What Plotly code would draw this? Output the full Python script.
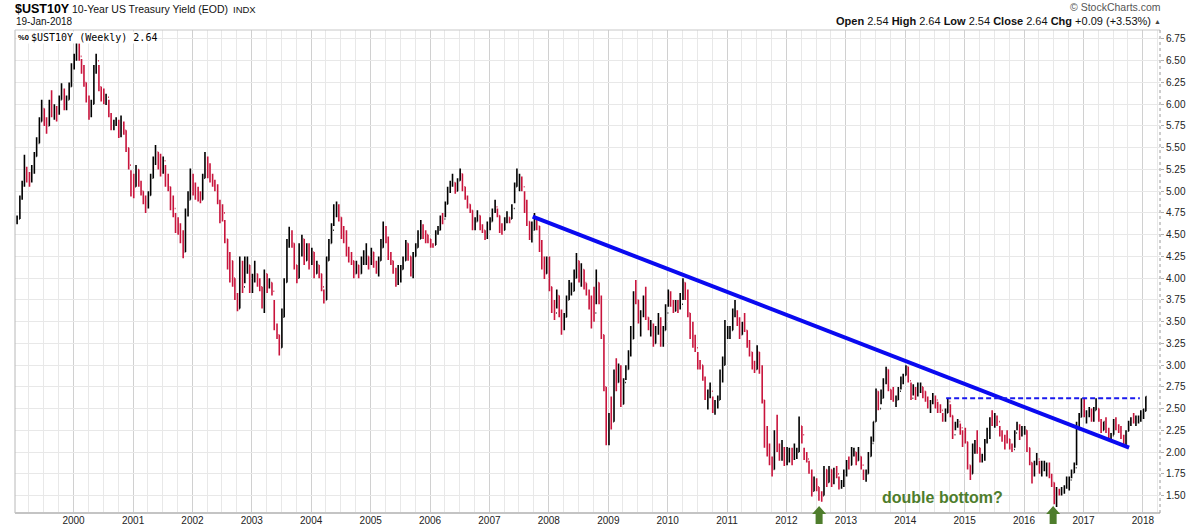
import plotly.graph_objects as go

# ---------------- data (semi-monthly bars) ----------------
high = [
    # 1999 (from Jan 19)
    4.72,4.95,5.12,5.42,5.28,5.22,5.30,5.45,5.62,5.85,6.05,5.95,5.85,6.05,6.16,6.00,5.98,6.10,6.24,6.18,6.10,6.25,6.47,
    # 2000
    6.58,6.72,6.70,6.52,6.45,6.25,6.10,6.05,6.45,6.58,6.45,6.20,6.18,6.12,6.05,5.90,5.82,5.85,5.82,5.87,5.80,5.70,5.50,5.24,
    # 2001
    5.20,5.30,5.25,5.12,5.00,4.95,5.00,5.20,5.40,5.53,5.45,5.43,5.40,5.30,5.20,5.05,4.95,4.75,4.70,4.63,4.55,4.80,5.00,5.26,
    # 2002
    5.20,5.10,5.05,5.00,5.20,5.45,5.40,5.32,5.20,5.13,5.08,4.90,4.85,4.67,4.45,4.30,4.20,4.00,3.83,4.25,4.20,4.25,4.25,4.15,
    # 2003
    4.05,4.20,4.05,4.00,3.90,4.10,4.05,4.00,3.95,3.75,3.48,3.35,3.65,4.00,4.45,4.59,4.55,4.40,4.15,4.40,4.50,4.45,4.40,4.40,
    # 2004
    4.35,4.30,4.20,4.15,4.05,3.87,4.25,4.45,4.63,4.85,4.88,4.85,4.70,4.60,4.55,4.36,4.30,4.20,4.20,4.15,4.25,4.32,4.40,4.25,
    # 2005
    4.35,4.30,4.20,4.25,4.45,4.65,4.60,4.48,4.30,4.20,4.12,4.15,4.15,4.25,4.44,4.40,4.25,4.30,4.40,4.55,4.67,4.62,4.55,4.50,
    # 2006
    4.45,4.40,4.55,4.60,4.72,4.75,4.88,5.05,5.12,5.20,5.10,5.15,5.26,5.20,5.05,4.95,4.85,4.78,4.70,4.78,4.72,4.62,4.55,4.65,
    # 2007
    4.70,4.80,4.90,4.80,4.72,4.63,4.70,4.77,4.70,4.85,5.10,5.26,5.20,5.17,5.00,4.90,4.65,4.65,4.75,4.70,4.60,4.44,4.25,4.25,
    # 2008
    4.25,3.90,3.75,3.87,3.80,3.64,3.60,3.80,3.98,3.95,4.10,4.29,4.20,4.17,4.10,3.94,3.87,3.80,3.90,4.10,3.95,3.80,3.35,2.75,
    # 2009
    2.45,2.64,2.95,3.08,3.02,3.00,2.85,3.00,3.17,3.45,3.85,3.98,3.75,3.63,3.80,3.90,3.55,3.52,3.48,3.45,3.60,3.55,3.45,3.70,
    # 2010
    3.87,3.85,3.75,3.75,3.75,3.83,4.00,3.95,3.87,3.60,3.50,3.35,3.15,3.06,3.00,2.87,2.72,2.80,2.64,2.60,2.65,2.95,3.10,3.52,
    # 2011
    3.45,3.45,3.65,3.75,3.63,3.55,3.50,3.60,3.40,3.29,3.15,3.05,3.23,3.15,3.00,2.60,2.30,2.10,1.95,2.25,2.43,2.10,2.14,2.06,
    # 2012
    2.06,2.05,2.05,2.10,2.05,2.41,2.30,2.05,2.00,1.90,1.80,1.72,1.70,1.60,1.55,1.84,1.80,1.84,1.80,1.82,1.84,1.72,1.68,1.80,
    # 2013
    1.91,1.95,2.06,2.05,2.00,2.06,1.95,1.80,1.80,2.00,2.18,2.35,2.73,2.70,2.72,2.85,2.98,2.95,2.72,2.75,2.65,2.75,2.87,2.90,
    # 2014
    3.00,2.98,2.80,2.78,2.75,2.80,2.80,2.75,2.70,2.64,2.60,2.68,2.65,2.58,2.55,2.45,2.50,2.62,2.55,2.42,2.35,2.38,2.33,2.25,
    # 2015
    2.28,2.12,1.85,2.10,2.14,2.25,2.05,1.98,2.15,2.28,2.40,2.48,2.45,2.42,2.30,2.25,2.20,2.25,2.15,2.10,2.25,2.35,2.32,2.30,
    # 2016
    2.30,2.25,2.05,1.88,1.90,1.99,1.90,1.90,1.90,1.88,1.88,1.75,1.65,1.60,1.58,1.60,1.62,1.72,1.72,1.80,1.88,2.35,2.45,2.62,
    # 2017
    2.62,2.48,2.52,2.50,2.52,2.62,2.50,2.38,2.35,2.40,2.28,2.22,2.38,2.40,2.32,2.30,2.20,2.25,2.36,2.40,2.45,2.42,2.42,2.48,
    # 2018
    2.50,2.64,
]
low = [
    4.62,4.68,4.90,5.05,5.10,5.05,5.10,5.20,5.40,5.55,5.80,5.75,5.66,5.75,5.85,5.82,5.80,5.88,6.05,5.93,5.93,6.05,6.20,
    6.40,6.50,6.50,6.35,6.20,6.02,5.82,5.85,6.00,6.35,6.15,6.03,6.00,5.99,5.85,5.70,5.70,5.75,5.61,5.62,5.65,5.45,5.25,4.94,
    4.92,5.05,5.05,4.95,4.85,4.75,4.80,4.95,5.15,5.30,5.25,5.17,5.20,5.05,5.00,4.78,4.70,4.52,4.50,4.40,4.23,4.30,4.71,4.90,
    4.95,4.90,4.88,4.86,4.90,5.15,5.15,5.10,5.05,5.00,4.85,4.63,4.65,4.40,4.10,3.95,3.90,3.75,3.62,3.65,3.83,3.94,4.05,3.83,
    3.83,3.95,3.90,3.85,3.65,3.60,3.83,3.88,3.80,3.40,3.30,3.11,3.20,3.55,3.95,4.35,4.35,4.10,3.94,4.00,4.25,4.15,4.20,4.10,
    4.15,4.00,4.05,4.00,3.85,3.71,3.75,4.20,4.40,4.60,4.70,4.65,4.45,4.40,4.25,4.18,4.15,4.00,4.05,4.00,4.05,4.15,4.15,4.10,
    4.15,4.12,4.05,4.02,4.20,4.35,4.40,4.21,4.15,4.05,3.90,3.92,3.95,4.10,4.20,4.20,4.02,4.00,4.25,4.35,4.45,4.45,4.40,4.40,
    4.35,4.35,4.38,4.50,4.55,4.62,4.70,4.85,4.98,5.05,4.97,5.00,5.12,5.00,4.90,4.80,4.75,4.55,4.55,4.65,4.55,4.52,4.44,4.45,
    4.55,4.65,4.75,4.70,4.52,4.50,4.55,4.63,4.63,4.68,4.86,5.05,5.00,5.00,4.75,4.60,4.44,4.41,4.55,4.55,4.30,4.10,3.99,4.05,
    3.85,3.60,3.52,3.65,3.55,3.35,3.40,3.55,3.75,3.80,3.85,4.00,3.95,3.90,3.87,3.80,3.64,3.42,3.50,3.70,3.70,3.30,2.70,2.08,
    2.08,2.26,2.35,2.70,2.80,2.52,2.55,2.83,2.95,3.10,3.30,3.70,3.48,3.33,3.55,3.52,3.40,3.33,3.21,3.25,3.35,3.21,3.21,3.40,
    3.67,3.67,3.60,3.62,3.60,3.64,3.75,3.75,3.55,3.30,3.20,3.15,2.95,2.95,2.82,2.60,2.49,2.62,2.45,2.43,2.50,2.60,2.80,3.00,
    3.30,3.30,3.40,3.55,3.45,3.30,3.35,3.38,3.20,3.10,2.95,2.91,2.95,2.90,2.56,2.05,1.95,1.85,1.72,1.80,2.00,1.90,1.90,1.84,
    1.85,1.88,1.85,1.91,1.92,2.00,2.10,1.91,1.88,1.75,1.49,1.55,1.55,1.44,1.43,1.50,1.60,1.65,1.60,1.63,1.70,1.57,1.58,1.60,
    1.72,1.80,1.85,1.95,1.85,1.90,1.80,1.68,1.66,1.75,1.95,2.12,2.35,2.48,2.55,2.62,2.78,2.70,2.60,2.58,2.52,2.60,2.72,2.78,
    2.88,2.80,2.60,2.65,2.60,2.64,2.68,2.62,2.58,2.50,2.45,2.55,2.50,2.45,2.45,2.35,2.35,2.45,2.40,2.15,2.25,2.28,2.20,2.06,
    2.10,1.80,1.68,1.75,1.98,1.98,1.88,1.88,1.90,2.10,2.15,2.30,2.28,2.30,2.18,2.12,2.03,2.10,2.03,2.00,2.05,2.25,2.14,2.18,
    2.20,2.00,1.85,1.64,1.72,1.85,1.75,1.72,1.78,1.72,1.70,1.60,1.40,1.37,1.50,1.50,1.52,1.58,1.56,1.70,1.76,1.85,2.25,2.40,
    2.40,2.33,2.40,2.35,2.35,2.48,2.35,2.22,2.25,2.22,2.15,2.13,2.20,2.25,2.22,2.15,2.08,2.08,2.24,2.30,2.33,2.30,2.33,2.35,
    2.38,2.47,
]
close = [
    4.68,4.92,5.08,5.25,5.15,5.12,5.25,5.40,5.55,5.80,5.95,5.80,5.75,5.98,5.90,5.92,5.90,6.05,6.15,5.98,6.05,6.20,6.42,
    6.55,6.68,6.55,6.42,6.25,6.05,5.88,6.00,6.40,6.50,6.20,6.10,6.05,6.08,5.88,5.75,5.78,5.80,5.70,5.75,5.70,5.50,5.30,5.10,
    5.05,5.25,5.10,5.00,4.90,4.82,4.95,5.15,5.35,5.45,5.32,5.25,5.35,5.10,5.05,4.85,4.80,4.65,4.55,4.50,4.30,4.75,4.90,5.10,
    5.05,4.98,4.95,4.90,5.15,5.35,5.20,5.15,5.10,5.05,4.88,4.75,4.75,4.45,4.20,4.20,4.00,3.80,3.65,4.15,3.90,4.15,4.15,3.90,
    4.00,4.05,3.95,3.90,3.70,4.05,3.90,3.95,3.85,3.45,3.35,3.20,3.55,3.95,4.40,4.50,4.40,4.15,4.00,4.35,4.45,4.20,4.35,4.20,
    4.30,4.05,4.15,4.05,3.90,3.75,4.20,4.40,4.55,4.75,4.80,4.70,4.50,4.45,4.30,4.25,4.20,4.05,4.15,4.05,4.20,4.20,4.25,4.20,
    4.30,4.15,4.10,4.20,4.35,4.55,4.45,4.25,4.20,4.10,3.95,4.05,4.10,4.20,4.40,4.25,4.05,4.25,4.35,4.45,4.60,4.50,4.50,4.45,
    4.38,4.38,4.52,4.55,4.70,4.68,4.85,5.00,5.10,5.10,5.00,5.12,5.20,5.05,4.92,4.85,4.78,4.62,4.65,4.72,4.60,4.55,4.47,4.60,
    4.65,4.78,4.82,4.72,4.55,4.55,4.68,4.70,4.68,4.80,5.05,5.15,5.15,5.05,4.78,4.65,4.50,4.55,4.65,4.60,4.35,4.15,4.05,4.15,
    3.90,3.65,3.60,3.80,3.60,3.45,3.55,3.75,3.85,3.85,4.00,4.20,4.00,4.10,3.95,3.85,3.70,3.70,3.60,3.95,3.75,3.35,2.75,2.15,
    2.40,2.35,2.90,2.80,2.95,2.55,2.80,2.95,3.15,3.30,3.80,3.75,3.50,3.60,3.75,3.55,3.42,3.45,3.25,3.40,3.50,3.35,3.40,3.60,
    3.83,3.70,3.62,3.70,3.65,3.70,3.95,3.80,3.60,3.35,3.25,3.20,3.00,3.00,2.85,2.62,2.65,2.70,2.50,2.55,2.60,2.90,3.00,3.35,
    3.35,3.40,3.60,3.60,3.50,3.35,3.45,3.40,3.25,3.15,3.00,2.95,3.15,2.95,2.60,2.10,2.00,1.90,1.80,2.20,2.05,1.95,2.05,1.90,
    2.00,2.00,1.95,2.00,2.00,2.30,2.20,1.98,1.92,1.78,1.55,1.65,1.60,1.50,1.50,1.80,1.65,1.80,1.65,1.78,1.75,1.60,1.62,1.75,
    1.90,1.85,2.00,2.00,1.90,1.95,1.85,1.70,1.75,1.95,2.10,2.35,2.70,2.50,2.62,2.82,2.95,2.72,2.63,2.59,2.60,2.70,2.85,2.88,
    2.98,2.82,2.62,2.72,2.65,2.75,2.75,2.70,2.60,2.52,2.58,2.62,2.60,2.50,2.48,2.40,2.45,2.58,2.42,2.20,2.32,2.35,2.28,2.15,
    2.12,1.85,1.75,2.05,2.10,2.05,1.90,1.92,2.12,2.20,2.35,2.32,2.38,2.35,2.22,2.15,2.15,2.15,2.05,2.03,2.22,2.28,2.20,2.25,
    2.25,2.05,1.88,1.75,1.88,1.92,1.78,1.80,1.80,1.85,1.72,1.65,1.42,1.55,1.52,1.55,1.60,1.65,1.68,1.76,1.82,2.30,2.40,2.55,
    2.42,2.45,2.46,2.42,2.48,2.50,2.36,2.25,2.35,2.24,2.18,2.19,2.35,2.27,2.27,2.19,2.10,2.24,2.35,2.36,2.35,2.37,2.38,2.46,
    2.47,2.64,
]
first_open = 4.66

# bar dates: the 5th and 19th of every month
dates = []
for yr in range(1999, 2019):
    for mo in range(1, 13):
        for dy in (5, 19):
            s = f"{yr}-{mo:02d}-{dy:02d}"
            if "1999-01-19" <= s <= "2018-01-19":
                dates.append(s)
assert len(dates) == len(high) == len(low) == len(close), (len(dates), len(high), len(low), len(close))
open_ = [first_open] + close[:-1]

# drawn annotations
trend_x = ["2007-09-24", "2017-10-08"]
trend_y = [4.707, 2.052]
resist_x = ["2014-09-09", "2017-12-13"]
resist_y = [2.62, 2.62]
arrow_dates = ["2012-07-20", "2016-06-28"]

y_ticks = [1.50, 1.75, 2.00, 2.25, 2.50, 2.75, 3.00, 3.25, 3.50, 3.75, 4.00, 4.25,
           4.50, 4.75, 5.00, 5.25, 5.50, 5.75, 6.00, 6.25, 6.50, 6.75]

hdr = dict(open="2.54", high="2.64", low="2.54", close="2.64", chg="+0.09 (+3.53%)")

# ---------------- figure ----------------
W, H = 1200, 528
ML, MR, MT, MB = 15, 40, 30, 15
PW, PH = W - ML - MR, H - MT - MB


def px(x):
    return (x - ML) / PW


def py(y):
    return (H - MB - y) / PH


fig = go.Figure()
fig.add_trace(go.Ohlc(
    x=dates, open=open_, high=high, low=low, close=close,
    increasing=dict(line=dict(color="#000000", width=1.6)),
    decreasing=dict(line=dict(color="#c8143c", width=1.6)),
    tickwidth=0.35, showlegend=False, hoverinfo="skip",
))
fig.add_trace(go.Scatter(x=trend_x, y=trend_y, mode="lines",
                         line=dict(color="#0a0af0", width=4), showlegend=False, hoverinfo="skip"))
fig.add_trace(go.Scatter(x=resist_x, y=resist_y, mode="lines",
                         line=dict(color="#1a1aee", width=2, dash="5px,3px"),
                         showlegend=False, hoverinfo="skip"))

font = "Liberation Sans, Arial, sans-serif"
annotations = [
    dict(x=px(13), y=py(9), text="<b>$UST10Y</b>", font=dict(size=12.5, color="#000", family=font),
         xanchor="left", yanchor="middle"),
    dict(x=px(70), y=py(9.5), text="10-Year US Treasury Yield (EOD)", font=dict(size=10.5, color="#111", family=font),
         xanchor="left", yanchor="middle"),
    dict(x=px(231), y=py(9.5), text="INDX", font=dict(size=9.5, color="#111", family=font),
         xanchor="left", yanchor="middle"),
    dict(x=px(14), y=py(22), text="19-Jan-2018", font=dict(size=10, color="#111", family=font),
         xanchor="left", yanchor="middle"),
    dict(x=px(1163), y=py(7), text="\u00a9 StockCharts.com", font=dict(size=10.5, color="#555", family=font),
         xanchor="right", yanchor="middle"),
    dict(x=px(1153), y=py(21.5),
         text=(f"<b>Open</b> {hdr['open']} <b>High</b> {hdr['high']} <b>Low</b> {hdr['low']} "
               f"<b>Close</b> {hdr['close']} <b>Chg</b> {hdr['chg']}"),
         font=dict(size=11, color="#111", family=font), xanchor="right", yanchor="middle"),
    dict(x=px(1152), y=py(21), text="\u25b2", font=dict(size=7, color="#444", family=font),
         xanchor="left", yanchor="middle"),
    dict(x=px(15.5), y=py(30.5), text="<b>%0</b>", font=dict(size=7.5, color="#000", family=font),
         xanchor="left", yanchor="top", bgcolor="#ffffff", borderpad=1),
    dict(x=px(30), y=py(30.5), text="$UST10Y (Weekly) 2.64",
         font=dict(size=10, color="#000", family="DejaVu Sans Mono, monospace"),
         xanchor="left", yanchor="top", bgcolor="#ffffff", borderpad=0),
    dict(x=px(942), y=py(497.5), text="<b>double bottom?</b>",
         font=dict(size=16, color="#4e7d2c", family=font), xanchor="center", yanchor="middle"),
]
for a in annotations:
    a.update(xref="paper", yref="paper", showarrow=False)

shapes = [
    dict(type="line", xref="paper", yref="paper", x0=0, x1=0, y0=0, y1=1, line=dict(color="#b8b8b8", width=1)),
    dict(type="line", xref="paper", yref="paper", x0=0, x1=1, y0=1, y1=1, line=dict(color="#c8c8c8", width=1)),
    dict(type="line", xref="paper", yref="paper", x0=0, x1=1, y0=0, y1=0, line=dict(color="#c4c4c4", width=2)),
    dict(type="line", xref="paper", yref="paper", x0=1, x1=1, y0=0, y1=1,
         line=dict(color="#9a9a9a", width=1, dash="dot")),
]
ya, yt, yb = py(514), py(506), py(524)
for d in arrow_dates:
    shapes.append(dict(
        type="path", xref="x", xsizemode="pixel", xanchor=d, yref="paper",
        path=(f"M -7,{ya} L 0,{yt} L 7,{ya} L 3.5,{ya} L 3.5,{yb} "
              f"L -3.5,{yb} L -3.5,{ya} Z"),
        fillcolor="#4e7d2c", line=dict(width=0), layer="above"))

fig.update_layout(
    width=W, height=H, autosize=False,
    margin=dict(l=ML, r=MR, t=MT, b=MB, pad=0, autoexpand=False),
    paper_bgcolor="#ffffff", plot_bgcolor="#ffffff",
    font=dict(family=font, size=10, color="#222"),
    showlegend=False,
    annotations=annotations,
    shapes=shapes,
    xaxis=dict(
        type="date", range=["1999-01-06", "2018-04-16"],
        rangeslider=dict(visible=False), automargin=False,
        tick0="2000-01-01", dtick="M12", tickformat="%Y",
        showgrid=True, gridcolor="#d0d0d0", gridwidth=1,
        ticks="", showline=False, zeroline=False,
        tickfont=dict(size=10, color="#222", family=font),
        minor=dict(dtick="M3", tick0="2000-01-01", showgrid=True, gridcolor="#e8e8e8", ticks=""),
        fixedrange=True,
    ),
    yaxis=dict(
        side="right", range=[1.30, 6.853], automargin=False,
        tickmode="array", tickvals=y_ticks, ticktext=[f"{v:.2f}" for v in y_ticks],
        showgrid=True, gridcolor="#e8e8e8", gridwidth=1,
        ticks="outside", ticklen=3, tickcolor="#b0b0b0",
        showline=False, zeroline=False,
        tickfont=dict(size=10, color="#222", family=font),
        fixedrange=True,
    ),
)

fig.write_html("out.html")
